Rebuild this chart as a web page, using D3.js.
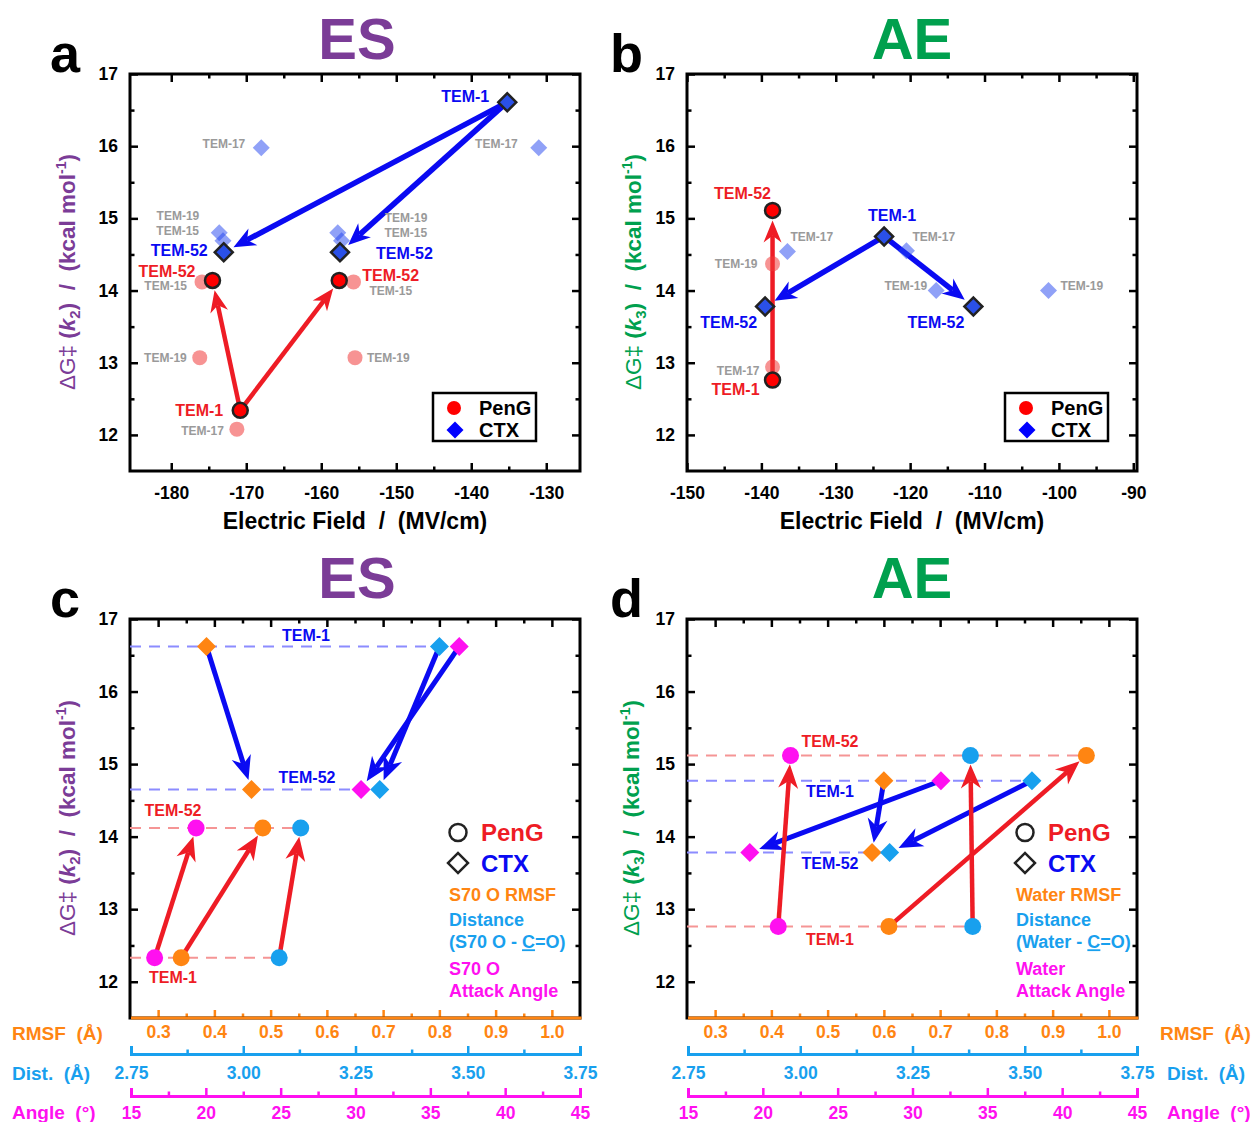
<!DOCTYPE html>
<html>
<head>
<meta charset="utf-8">
<script src="https://cdn.jsdelivr.net/npm/d3@7"></script>
<style>
body { margin: 0; background: #fff; }
text { font-family: Arial, "Liberation Sans", sans-serif; }
</style>
</head>
<body>
<svg id="svg" width="1260" height="1122"></svg>
<script>
// ---------- data ----------
// panel a: ES, electric field (MV/cm) vs dG k2 (kcal/mol)
var aPenG = [
  {name: "TEM-1", field: -170.8, dG: 12.34},
  {name: "TEM-52", field: -174.5, dG: 14.14},
  {name: "TEM-52", field: -157.6, dG: 14.14}
];
var aPenGOther = [
  {name: "TEM-15", field: -175.9, dG: 14.12},
  {name: "TEM-19", field: -176.2, dG: 13.07},
  {name: "TEM-17", field: -171.25, dG: 12.08},
  {name: "TEM-15", field: -155.7, dG: 14.12},
  {name: "TEM-19", field: -155.5, dG: 13.07}
];
var aCTX = [
  {name: "TEM-1", field: -135.2, dG: 16.61},
  {name: "TEM-52", field: -173.0, dG: 14.53},
  {name: "TEM-52", field: -157.5, dG: 14.53}
];
var aCTXOther = [
  {name: "TEM-17", field: -168.0, dG: 15.98},
  {name: "TEM-17", field: -131.0, dG: 15.98},
  {name: "TEM-19", field: -173.6, dG: 14.80},
  {name: "TEM-15", field: -173.1, dG: 14.69},
  {name: "TEM-19", field: -157.8, dG: 14.80},
  {name: "TEM-15", field: -157.3, dG: 14.69}
];

// panel b: AE, electric field vs dG k3
var bPenG = [
  {name: "TEM-1", field: -138.5, dG: 12.76},
  {name: "TEM-52", field: -138.5, dG: 15.11}
];
var bPenGOther = [
  {name: "TEM-19", field: -138.5, dG: 14.37},
  {name: "TEM-17", field: -138.5, dG: 12.94}
];
var bCTX = [
  {name: "TEM-1", field: -123.5, dG: 14.75},
  {name: "TEM-52", field: -139.5, dG: 13.78},
  {name: "TEM-52", field: -111.5, dG: 13.78}
];
var bCTXOther = [
  {name: "TEM-17", field: -136.5, dG: 14.54},
  {name: "TEM-17", field: -120.5, dG: 14.55},
  {name: "TEM-19", field: -116.5, dG: 14.00},
  {name: "TEM-19", field: -101.4, dG: 14.00}
];

// panel c: ES, [TEM-1, TEM-52]
var cPenGdG = [12.33, 14.12];
var cCTXdG = [16.62, 14.65];
var cPenGRmsf = [0.341, 0.486], cPenGDist = [3.080, 3.128], cPenGAngle = [16.58, 19.35];
var cCTXRmsf = [0.386, 0.466], cCTXDist = [3.437, 3.304], cCTXAngle = [36.93, 30.37];

// panel d: AE, [TEM-1, TEM-52]
var dPenGdG = [12.76, 15.12];
var dCTXdG = [14.77, 13.78];
var dPenGRmsf = [0.609, 0.960], dPenGDist = [3.384, 3.379], dPenGAngle = [21.03, 21.85];
var dCTXRmsf = [0.600, 0.579], dCTXDist = [3.516, 3.199], dCTXAngle = [31.9, 19.13];

// ticks
var dGTicks = [12, 13, 14, 15, 16, 17];
var dGMinor = [12.5, 13.5, 14.5, 15.5, 16.5];
var fieldTicksA = [-180, -170, -160, -150, -140, -130];
var fieldMinorA = [-175, -165, -155, -145, -135];
var fieldTicksB = [-150, -140, -130, -120, -110, -100, -90];
var fieldMinorB = [-145, -135, -125, -115, -105, -95];
var rmsfTicks = [0.3, 0.4, 0.5, 0.6, 0.7, 0.8, 0.9, 1.0];
var rmsfMinor = [0.35, 0.45, 0.55, 0.65, 0.75, 0.85, 0.95];
var distTicks = [2.75, 3.00, 3.25, 3.50, 3.75];
var distMinor = [2.875, 3.125, 3.375, 3.625];
var angleTicks = [15, 20, 25, 30, 35, 40, 45];
var angleMinor = [17.5, 22.5, 27.5, 32.5, 37.5, 42.5];

// ---------- styles ----------
var PURPLE = "#7B3C97", GREEN = "#00A04E";
var RED = "#EE1C25", BLUE = "#0A0AF2";
var ORANGE = "#FF8512", CYAN = "#18A0EE", MAGENTA = "#FF10F0";
var GRAY = "#9A9A9A";
var intFmt = d => String(d);   // plain hyphen minus like the original

var svg = d3.select("#svg");

function styleAxis(g, color, size) {
  g.select(".domain").remove();
  g.selectAll(".tick line").attr("stroke", color).attr("stroke-width", 2.5);
  g.selectAll(".tick text").attr("fill", color).attr("font-size", size)
    .attr("font-weight", "bold").attr("font-family", "Arial, 'Liberation Sans', sans-serif");
}

function drawBox(x, y, xTicks, xMinor, fmt, bottomColor) {
  var x0 = x.range()[0], x1 = x.range()[1];
  var yb = y.range()[0], yt = y.range()[1];
  var g = svg.append("g");
  g.append("g").attr("transform", "translate(" + x0 + ",0)")
    .call(d3.axisLeft(y).tickValues(dGTicks).tickSize(-8).tickPadding(12).tickFormat(intFmt))
    .call(s => styleAxis(s, "#000", 17.5));
  g.append("g").attr("transform", "translate(" + x0 + ",0)")
    .call(d3.axisLeft(y).tickValues(dGMinor).tickSize(-4.5).tickFormat(""))
    .call(s => styleAxis(s, "#000", 17));
  g.append("g").attr("transform", "translate(" + x1 + ",0)")
    .call(d3.axisRight(y).tickValues(dGTicks).tickSize(-8).tickFormat(""))
    .call(s => styleAxis(s, "#000", 17));
  g.append("g").attr("transform", "translate(" + x1 + ",0)")
    .call(d3.axisRight(y).tickValues(dGMinor).tickSize(-4.5).tickFormat(""))
    .call(s => styleAxis(s, "#000", 17));
  g.append("g").attr("transform", "translate(0," + yt + ")")
    .call(d3.axisTop(x).tickValues(xTicks).tickSize(-8).tickFormat(""))
    .call(s => styleAxis(s, "#000", 17));
  g.append("g").attr("transform", "translate(0," + yt + ")")
    .call(d3.axisTop(x).tickValues(xMinor).tickSize(-4.5).tickFormat(""))
    .call(s => styleAxis(s, "#000", 17));
  g.append("g").attr("transform", "translate(0," + yb + ")")
    .call(d3.axisBottom(x).tickValues(xTicks).tickSize(-8).tickPadding(bottomColor == "#000" ? 16 : 8).tickFormat(fmt))
    .call(s => styleAxis(s, bottomColor, 17.5));
  g.append("g").attr("transform", "translate(0," + yb + ")")
    .call(d3.axisBottom(x).tickValues(xMinor).tickSize(-4.5).tickFormat(""))
    .call(s => styleAxis(s, bottomColor, 17));
  g.append("rect").attr("x", x0).attr("y", yt).attr("width", x1 - x0).attr("height", yb - yt)
    .attr("fill", "none").attr("stroke", "#000").attr("stroke-width", 3);
  if (bottomColor != "#000") {
    g.append("line").attr("x1", x0 + 1).attr("x2", x1 + 1.5).attr("y1", yb).attr("y2", yb)
      .attr("stroke", bottomColor).attr("stroke-width", 3);
  }
}

function extraAxis(scale, ticks, minor, fmt, yPos, color, pad) {
  svg.append("g").attr("transform", "translate(0," + yPos + ")")
    .call(d3.axisBottom(scale).tickValues(ticks).tickSize(-8).tickSizeOuter(-8).tickPadding(pad).tickFormat(fmt))
    .call(s => {
      s.select(".domain").attr("stroke", color).attr("stroke-width", 3).attr("fill", "none");
      s.selectAll(".tick line").attr("stroke", color).attr("stroke-width", 2.5);
      s.selectAll(".tick text").attr("fill", color).attr("font-size", 17.5).attr("font-weight", "bold")
        .attr("font-family", "Arial, 'Liberation Sans', sans-serif");
    });
  svg.append("g").attr("transform", "translate(0," + yPos + ")")
    .call(d3.axisBottom(scale).tickValues(minor).tickSize(-4.5).tickFormat(""))
    .call(s => styleAxis(s, color, 17));
}

function yTitle(cx, cy, color, sub) {
  var t = svg.append("text").attr("transform", "translate(" + cx + "," + cy + ") rotate(-90)")
    .attr("text-anchor", "middle").attr("fill", color).attr("font-size", 22.5)
    .attr("font-weight", "bold").style("white-space", "pre");
  t.append("tspan").attr("font-weight", "normal").text("\u0394G\u2021 ");
  t.append("tspan").text("(");
  t.append("tspan").attr("font-style", "italic").text("k");
  t.append("tspan").attr("font-size", 15).attr("dy", 5).text(sub);
  t.append("tspan").attr("dy", -5).text(")  /  (kcal mol");
  t.append("tspan").attr("font-size", 14).attr("dy", -9).text("-1");
  t.append("tspan").attr("dy", 9).text(")");
}

function plainText(x, y, str, color, size, anchor) {
  return svg.append("text").attr("x", x).attr("y", y).attr("fill", color)
    .attr("font-size", size).attr("font-weight", "bold")
    .attr("text-anchor", anchor || "start").style("white-space", "pre").text(str);
}

function arrow(g, x1, y1, x2, y2, color, w, gap, L, H) {
  var dx = x2 - x1, dy = y2 - y1, len = Math.hypot(dx, dy);
  var ux = dx / len, uy = dy / len, nx = -uy, ny = ux;
  var tx = x2 - ux * gap, ty = y2 - uy * gap;
  var N = L * 0.3;
  var bx = tx - ux * L, by = ty - uy * L;
  var mx = tx - ux * (L - N), my = ty - uy * (L - N);
  g.append("line").attr("x1", x1).attr("y1", y1).attr("x2", mx).attr("y2", my)
    .attr("stroke", color).attr("stroke-width", w);
  g.append("path").attr("fill", color)
    .attr("d", "M" + tx + "," + ty + "L" + (bx + nx * H) + "," + (by + ny * H) +
      "L" + mx + "," + my + "L" + (bx - nx * H) + "," + (by - ny * H) + "Z");
}

function diamond(h) {
  return d3.symbol(d3.symbolSquare, 2 * h * h)();
}

// ---------- titles and panel letters ----------
[["a", 50, 72], ["b", 610, 72], ["c", 50, 617], ["d", 610, 617]].forEach(function(p) {
  plainText(p[1], p[2], p[0], "#000", 54);
});
plainText(357, 59, "ES", PURPLE, 58, "middle");
plainText(912, 59, "AE", GREEN, 58, "middle");
plainText(357, 598, "ES", PURPLE, 58, "middle");
plainText(912, 598, "AE", GREEN, 58, "middle");

// ---------- panels a, b ----------
function fieldPanel(x, y, penG, penGOther, ctx, ctxOther, layout) {
  drawBox(x, y, layout.ticks, layout.minor, intFmt, "#000");
  var g = svg.append("g");
  var px = d => x(d.field), py = d => y(d.dG);
  // arrows from TEM-1 to each TEM-52
  ctx.slice(1).forEach(d => arrow(g, px(ctx[0]), py(ctx[0]), px(d), py(d), BLUE, 5.5, 11, 22, 9.5));
  penG.slice(1).forEach(d => arrow(g, px(penG[0]), py(penG[0]), px(d), py(d), RED, 4.5, 10, 22, 9));
  // other variants, faded
  g.selectAll(".fc").data(penGOther).join("circle")
    .attr("cx", px).attr("cy", py).attr("r", 7.5).attr("fill", "#F03A3A").attr("opacity", 0.55);
  g.selectAll(".fd").data(ctxOther).join("path")
    .attr("d", diamond(8.5)).attr("transform", d => "translate(" + px(d) + "," + py(d) + ") rotate(45)")
    .attr("fill", "#2244F0").attr("opacity", 0.5);
  // main points
  g.selectAll(".mc").data(penG).join("circle")
    .attr("cx", px).attr("cy", py).attr("r", 7.5).attr("fill", "#FF0000")
    .attr("stroke", "#222").attr("stroke-width", 2.5);
  g.selectAll(".md").data(ctx).join("path")
    .attr("d", diamond(9)).attr("transform", d => "translate(" + px(d) + "," + py(d) + ") rotate(45)")
    .attr("fill", "#2A50E8").attr("stroke", "#222").attr("stroke-width", 2.5);
  // labels
  function lab(arr, spec, color, size) {
    spec.forEach(function(s, i) {
      var d = arr[i];
      plainText(px(d) + s[0], py(d) + s[1], d.name, color, size, s[2]).attr("dy", "0.35em");
    });
  }
  lab(penG, layout.penG, RED, 16);
  lab(ctx, layout.ctx, BLUE, 16);
  lab(penGOther, layout.penGOther, GRAY, 12);
  lab(ctxOther, layout.ctxOther, GRAY, 12);
  // legend
  var lx = layout.legend;
  svg.append("rect").attr("x", lx).attr("y", 393).attr("width", 103).attr("height", 48)
    .attr("fill", "#fff").attr("stroke", "#000").attr("stroke-width", 2.5);
  svg.append("circle").attr("cx", lx + 21).attr("cy", 408).attr("r", 7).attr("fill", "#FF0000");
  svg.append("path").attr("d", diamond(8.5)).attr("transform", "translate(" + (lx + 22) + ",430) rotate(45)")
    .attr("fill", "#0000FF");
  plainText(lx + 46, 408, "PenG", "#000", 20).attr("dy", "0.35em");
  plainText(lx + 46, 430, "CTX", "#000", 20).attr("dy", "0.35em");
  // axis title
  plainText((x.range()[0] + x.range()[1]) / 2, 529, "Electric Field  /  (MV/cm)", "#000", 23, "middle");
}

var yA = d3.scaleLinear().domain([11.5, 17]).range([471, 74]);
var xA = d3.scaleLinear().domain([-185.5, -125.5]).range([130, 580]);
var xB = d3.scaleLinear().domain([-150, -89.5]).range([687, 1137]);

fieldPanel(xA, yA, aPenG, aPenGOther, aCTX, aCTXOther, {
  ticks: fieldTicksA, minor: fieldMinorA, legend: 433,
  penG: [[-17, 0, "end"], [-17, -9, "end"], [23, -5, "start"]],
  ctx: [[-18, -6, "end"], [-16, -2, "end"], [36, 1, "start"]],
  penGOther: [[-15, 4, "end"], [-13, 0, "end"], [-13, 2, "end"], [16, 9, "start"], [12, 0, "start"]],
  ctxOther: [[-16, -4, "end"], [-21, -4, "end"], [-20, -17, "end"], [-24, -10, "end"], [47, -15, "start"], [43, -8, "start"]]
});
fieldPanel(xB, yA, bPenG, bPenGOther, bCTX, bCTXOther, {
  ticks: fieldTicksB, minor: fieldMinorB, legend: 1005,
  penG: [[-13, 9, "end"], [-30, -17, "middle"]],
  ctx: [[8, -21, "middle"], [-8, 16, "end"], [-9, 16, "end"]],
  penGOther: [[-15, 0, "end"], [-13, 4, "end"]],
  ctxOther: [[3, -15, "start"], [6, -14, "start"], [-9, -5, "end"], [12, -5, "start"]]
});
yTitle(75, 272, PURPLE, "2");
yTitle(641, 272, GREEN, "3");

// ---------- panels c, d ----------
var yC = d3.scaleLinear().domain([11.5, 17]).range([1018, 619]);

function propPanel(x0, penGdG, ctxdG, penG, ctx, labels, legend) {
  var rmsf = d3.scaleLinear().domain([0.25, 1.05]).range([x0, x0 + 450]);
  var dist = d3.scaleLinear().domain([2.75, 3.75]).range([x0 + 1, x0 + 450]);
  var angle = d3.scaleLinear().domain([15, 45]).range([x0 + 1, x0 + 450]);
  drawBox(rmsf, yC, rmsfTicks, rmsfMinor, d3.format(".1f"), ORANGE);
  extraAxis(dist, distTicks, distMinor, d3.format(".2f"), 1054, CYAN, 13);
  extraAxis(angle, angleTicks, angleMinor, d3.format("d"), 1096, MAGENTA, 11);

  var props = [
    {scale: rmsf, color: ORANGE, p: penG[0], c: ctx[0]},
    {scale: dist, color: CYAN, p: penG[1], c: ctx[1]},
    {scale: angle, color: MAGENTA, p: penG[2], c: ctx[2]}
  ];
  var g = svg.append("g");
  // dashed guide lines, one per variant
  [[ctxdG, "#8C8CFF", 0], [ctxdG, "#8C8CFF", 1], [penGdG, "#F59595", 0], [penGdG, "#F59595", 1]].forEach(function(l, k) {
    var vals = k < 2 ? props.map(p => p.scale(p.c[l[2]])) : props.map(p => p.scale(p.p[l[2]]));
    g.append("line").attr("x1", x0).attr("x2", d3.max(vals))
      .attr("y1", yC(l[0][l[2]])).attr("y2", yC(l[0][l[2]]))
      .attr("stroke", l[1]).attr("stroke-width", 2).attr("stroke-dasharray", "11,8");
  });
  props.forEach(p => arrow(g, p.scale(p.c[0]), yC(ctxdG[0]), p.scale(p.c[1]), yC(ctxdG[1]), BLUE, 5, 10, 24, 10));
  props.forEach(p => arrow(g, p.scale(p.p[0]), yC(penGdG[0]), p.scale(p.p[1]), yC(penGdG[1]), RED, 4.5, 9, 24, 10));
  props.forEach(function(p) {
    [0, 1].forEach(function(i) {
      g.append("circle").attr("cx", p.scale(p.p[i])).attr("cy", yC(penGdG[i])).attr("r", 8.5).attr("fill", p.color);
      g.append("path").attr("d", diamond(9.5))
        .attr("transform", "translate(" + p.scale(p.c[i]) + "," + yC(ctxdG[i]) + ") rotate(45)")
        .attr("fill", p.color);
    });
  });
  // variant labels
  labels.forEach(function(l) {
    plainText(x0 + l[0], yC(l[1]) + l[2], l[3], l[4], 16, "middle").attr("dy", "0.35em");
  });
  // legend
  var lx = legend.x;
  svg.append("circle").attr("cx", lx + 9).attr("cy", 832.5).attr("r", 8.5)
    .attr("fill", "none").attr("stroke", "#222").attr("stroke-width", 2.5);
  svg.append("path").attr("d", diamond(10)).attr("transform", "translate(" + (lx + 9) + ",863) rotate(45)")
    .attr("fill", "none").attr("stroke", "#222").attr("stroke-width", 2.5);
  plainText(lx + 32, 833, "PenG", RED, 24).attr("dy", "0.35em");
  plainText(lx + 32, 864, "CTX", BLUE, 24).attr("dy", "0.35em");
  plainText(lx, 895, legend.rmsf, ORANGE, 18).attr("dy", "0.35em");
  plainText(lx, 920, "Distance", CYAN, 18).attr("dy", "0.35em");
  var t = plainText(lx, 942, "(" + legend.who + " - ", CYAN, 18).attr("dy", "0.35em");
  t.append("tspan").attr("text-decoration", "underline").text("C");
  t.append("tspan").text("=O)");
  plainText(lx, 969, legend.who, MAGENTA, 18).attr("dy", "0.35em");
  plainText(lx, 991, "Attack Angle", MAGENTA, 18).attr("dy", "0.35em");
  // axis names
  plainText(legend.ax, 1040, "RMSF  (\u00C5)", ORANGE, 19);
  plainText(legend.ax2, 1080, "Dist.  (\u00C5)", CYAN, 19);
  plainText(legend.ax2, 1119, "Angle  (\u00B0)", MAGENTA, 19);
}

propPanel(130, cPenGdG, cCTXdG,
  [cPenGRmsf, cPenGDist, cPenGAngle], [cCTXRmsf, cCTXDist, cCTXAngle],
  [[176, 16.62, -11, "TEM-1", BLUE], [177, 14.65, -12, "TEM-52", BLUE],
   [43, 14.12, -18, "TEM-52", RED], [43, 12.33, 20, "TEM-1", RED]],
  {x: 449, rmsf: "S70 O RMSF", who: "S70 O", ax: 12, ax2: 12});
propPanel(687, dPenGdG, dCTXdG,
  [dPenGRmsf, dPenGDist, dPenGAngle], [dCTXRmsf, dCTXDist, dCTXAngle],
  [[143, 15.12, -14, "TEM-52", RED], [143, 14.77, 11, "TEM-1", BLUE],
   [143, 13.78, 11, "TEM-52", BLUE], [143, 12.76, 13, "TEM-1", RED]],
  {x: 1016, rmsf: "Water RMSF", who: "Water", ax: 1160, ax2: 1167});
yTitle(75, 818, PURPLE, "2");
yTitle(639, 818, GREEN, "3");
</script>
</body>
</html>
